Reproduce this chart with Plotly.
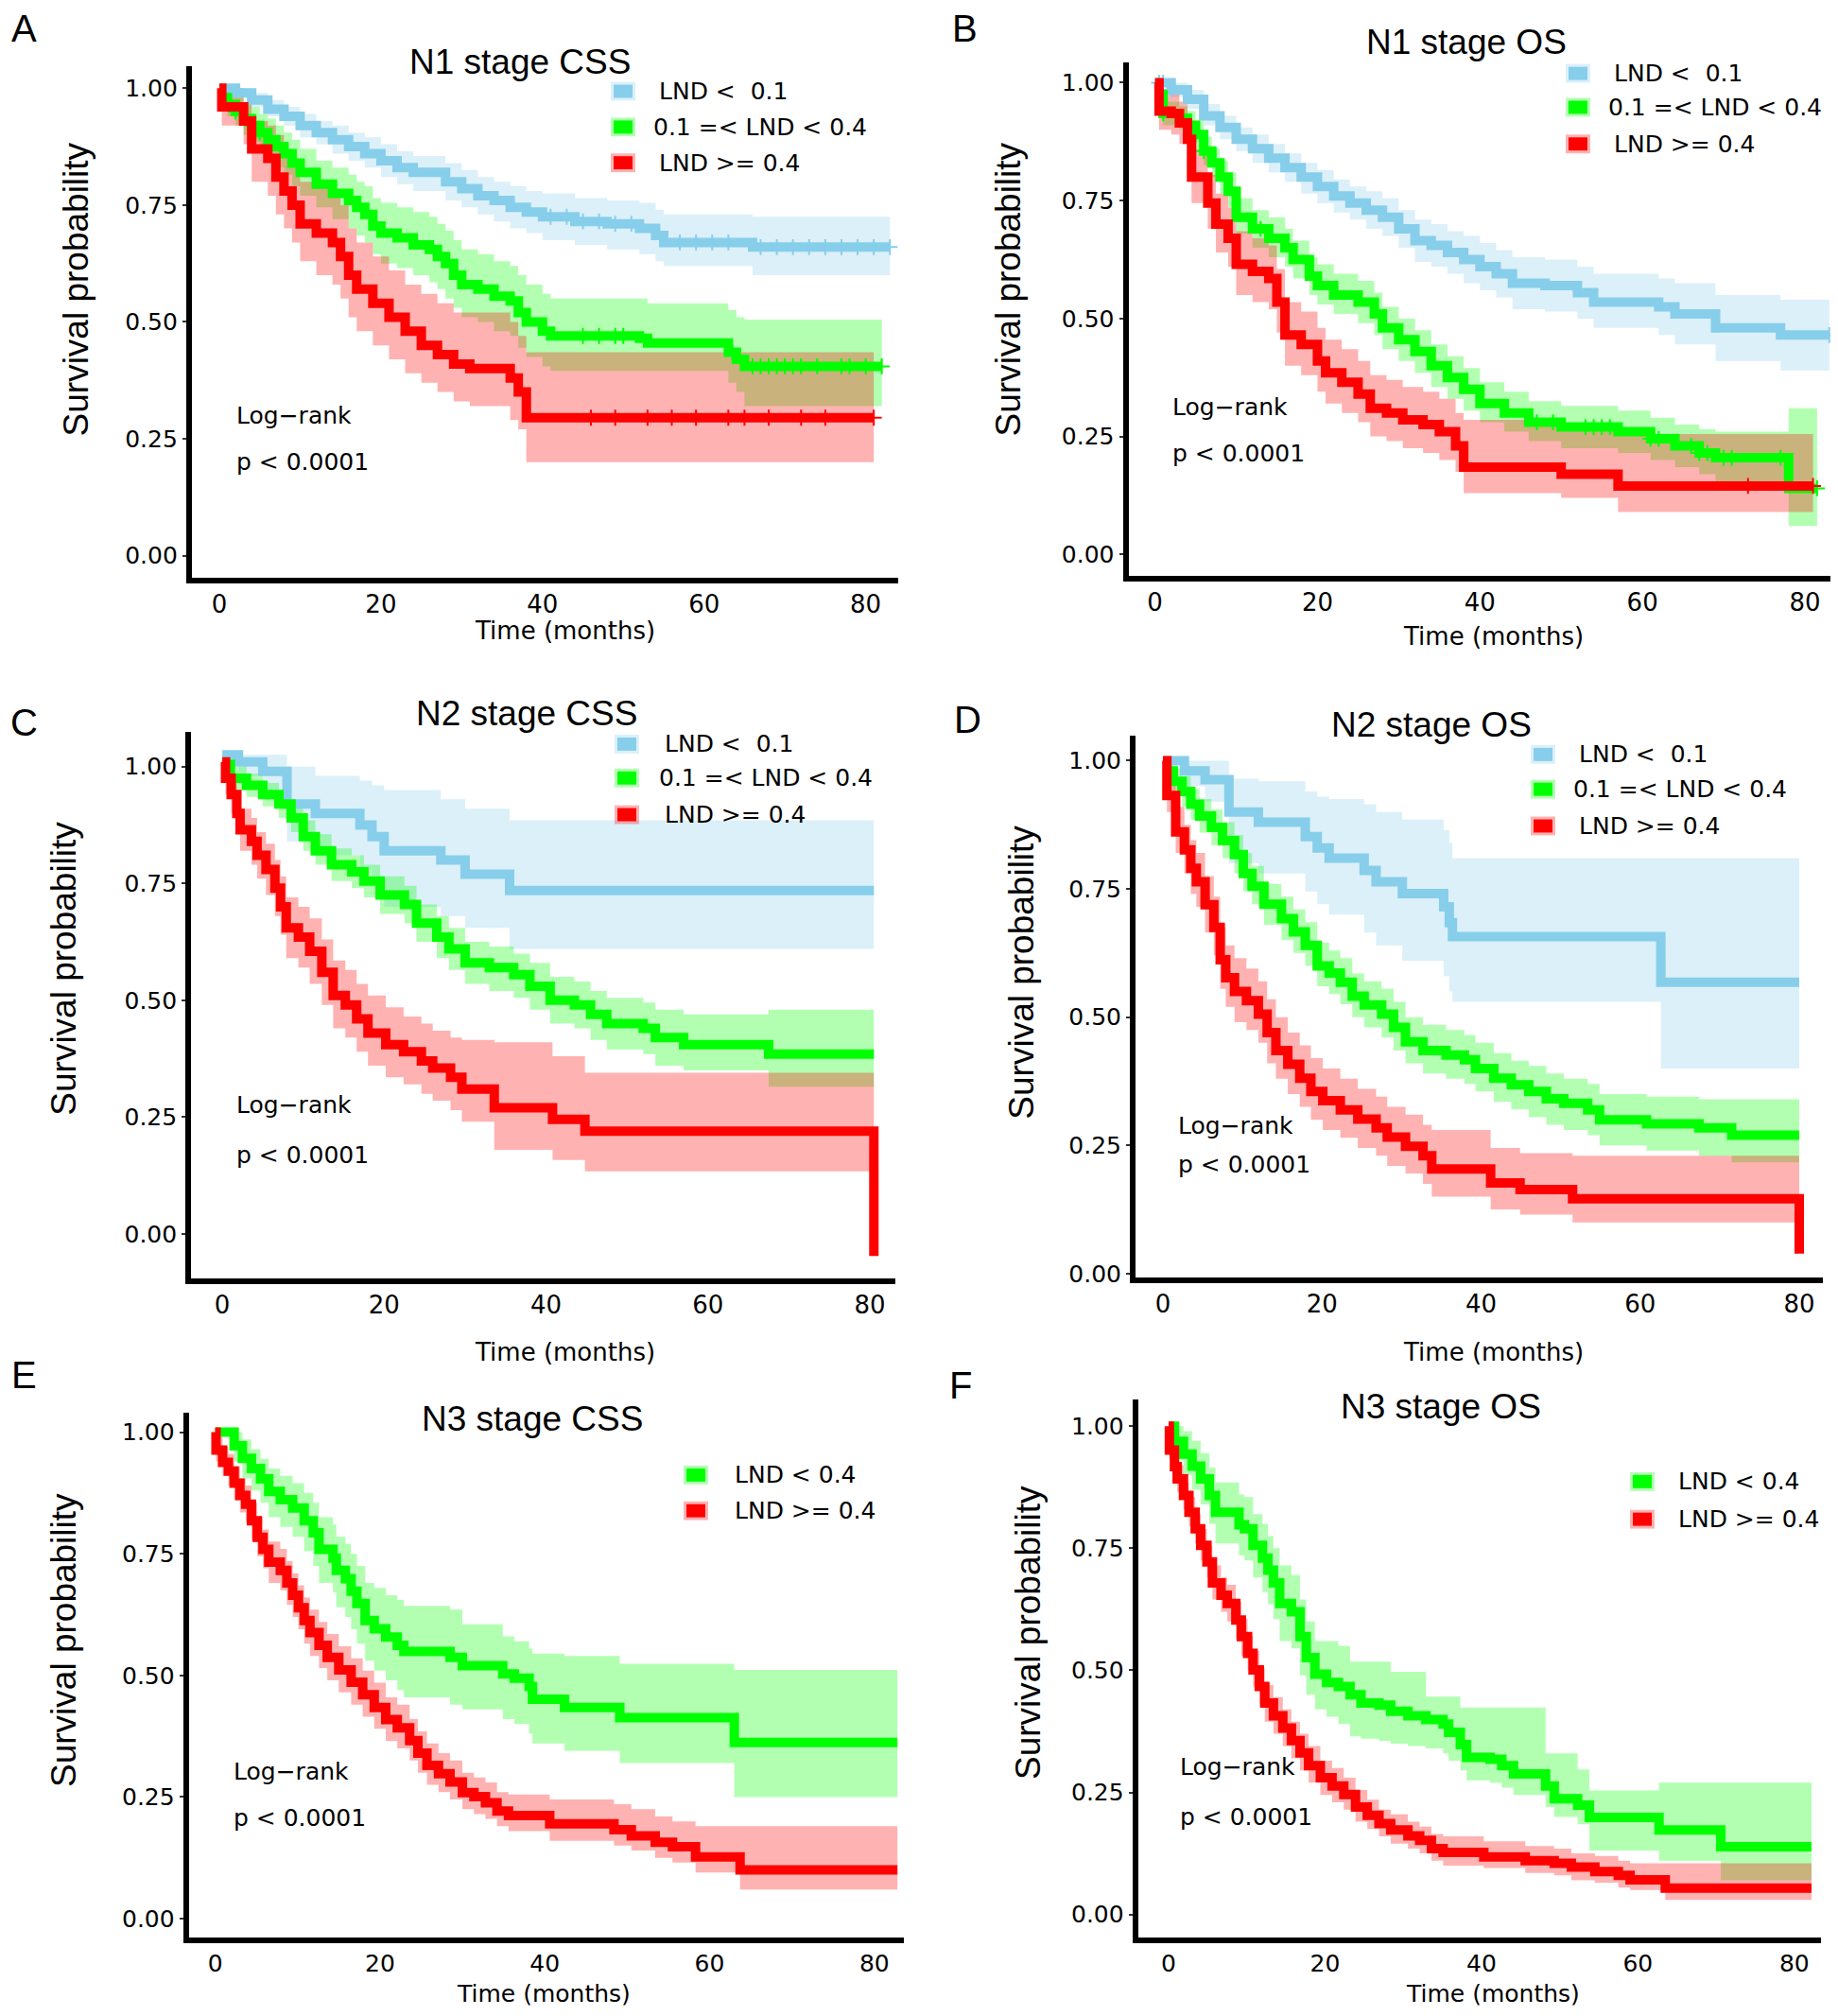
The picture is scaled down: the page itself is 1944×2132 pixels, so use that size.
import numpy as np
import plotly.graph_objects as go

W, H = 1944, 2132

# ---------------- data ----------------
# A: N1 stage CSS
a_blue_t = [0, 2, 4, 6, 8, 10, 12, 14, 16, 18, 20, 22, 24, 28, 30, 32, 34, 36, 38, 40, 44, 48, 52, 54, 55, 66, 83]
a_blue_s = [1.00, 0.99, 0.975, 0.955, 0.94, 0.92, 0.905, 0.89, 0.875, 0.86, 0.845, 0.83, 0.82, 0.80, 0.785, 0.77, 0.76, 0.745, 0.735, 0.725, 0.715, 0.71, 0.70, 0.685, 0.67, 0.66, 0.66]
a_blue_lo = [1.00, 0.98, 0.96, 0.94, 0.92, 0.895, 0.88, 0.86, 0.845, 0.83, 0.81, 0.795, 0.78, 0.76, 0.745, 0.73, 0.715, 0.70, 0.69, 0.675, 0.665, 0.655, 0.645, 0.63, 0.62, 0.60, 0.60]
a_blue_hi = [1.00, 1.00, 0.99, 0.975, 0.96, 0.945, 0.93, 0.92, 0.905, 0.895, 0.88, 0.865, 0.855, 0.84, 0.825, 0.81, 0.80, 0.79, 0.78, 0.775, 0.765, 0.76, 0.755, 0.74, 0.73, 0.725, 0.725]
a_green_t = [0, 1, 2, 3, 4, 5, 6, 7, 8, 9, 10, 12, 14, 16, 17, 18, 19, 20, 22, 24, 26, 27, 28, 29, 30, 32, 34, 36, 37, 38, 40, 41, 52, 53, 63, 64, 65, 82]
a_green_s = [0.98, 0.965, 0.95, 0.935, 0.92, 0.905, 0.89, 0.875, 0.86, 0.84, 0.82, 0.795, 0.775, 0.76, 0.745, 0.73, 0.705, 0.69, 0.68, 0.665, 0.655, 0.64, 0.625, 0.60, 0.58, 0.57, 0.555, 0.545, 0.52, 0.50, 0.48, 0.47, 0.465, 0.455, 0.435, 0.42, 0.405, 0.405]
a_green_lo = [0.96, 0.94, 0.92, 0.90, 0.885, 0.865, 0.85, 0.83, 0.815, 0.79, 0.77, 0.745, 0.72, 0.70, 0.685, 0.67, 0.645, 0.625, 0.615, 0.60, 0.585, 0.57, 0.55, 0.53, 0.51, 0.50, 0.48, 0.47, 0.445, 0.425, 0.405, 0.395, 0.395, 0.395, 0.37, 0.35, 0.32, 0.32]
a_green_hi = [1.0, 0.99, 0.98, 0.97, 0.96, 0.945, 0.935, 0.92, 0.905, 0.89, 0.87, 0.845, 0.83, 0.815, 0.80, 0.79, 0.765, 0.755, 0.745, 0.735, 0.725, 0.71, 0.695, 0.675, 0.655, 0.645, 0.63, 0.62, 0.60, 0.58, 0.56, 0.55, 0.55, 0.54, 0.525, 0.51, 0.505, 0.505]
a_red_t = [0, 0.3, 3, 4, 6, 7, 8, 9, 10, 12, 14, 15, 16, 17, 19, 21, 23, 25, 27, 29, 31, 36, 37, 38, 81]
a_red_s = [1.0, 0.96, 0.93, 0.87, 0.85, 0.81, 0.78, 0.75, 0.71, 0.69, 0.67, 0.64, 0.60, 0.57, 0.54, 0.51, 0.48, 0.45, 0.43, 0.41, 0.40, 0.38, 0.35, 0.295, 0.295]
a_red_lo = [1.0, 0.92, 0.88, 0.80, 0.77, 0.73, 0.70, 0.67, 0.63, 0.60, 0.58, 0.55, 0.51, 0.48, 0.45, 0.42, 0.39, 0.37, 0.35, 0.33, 0.32, 0.29, 0.27, 0.20, 0.20]
a_red_hi = [1.0, 1.0, 0.97, 0.93, 0.92, 0.90, 0.87, 0.84, 0.80, 0.79, 0.78, 0.75, 0.70, 0.67, 0.64, 0.61, 0.58, 0.56, 0.54, 0.52, 0.52, 0.50, 0.47, 0.435, 0.435]
a_blue_cens = [41, 43, 45, 47, 49, 51, 57, 59, 61, 63, 67, 69, 71, 73, 75, 77, 79, 81, 83]
a_green_cens = [2, 4, 5, 45, 47, 49, 50, 63.5, 66, 67, 68, 69, 70, 71, 72, 74, 77, 78, 80, 82]
a_red_cens = [46, 49, 53, 56, 59, 63, 65, 68, 72, 75, 81]

# B: N1 stage OS
b_blue_t = [0, 2, 4, 6, 8, 10, 12, 14, 16, 18, 20, 22, 24, 26, 28, 30, 32, 34, 36, 38, 40, 42, 44, 48, 52, 54, 62, 64, 69, 77, 83]
b_blue_s = [1.0, 0.985, 0.965, 0.93, 0.905, 0.88, 0.86, 0.84, 0.82, 0.80, 0.78, 0.76, 0.745, 0.73, 0.715, 0.69, 0.665, 0.655, 0.64, 0.625, 0.61, 0.595, 0.575, 0.57, 0.555, 0.535, 0.525, 0.51, 0.48, 0.465, 0.465]
b_blue_lo = [1.0, 0.97, 0.945, 0.91, 0.88, 0.855, 0.83, 0.81, 0.79, 0.765, 0.745, 0.725, 0.71, 0.69, 0.675, 0.65, 0.62, 0.61, 0.595, 0.575, 0.56, 0.545, 0.52, 0.515, 0.50, 0.48, 0.465, 0.445, 0.41, 0.39, 0.39]
b_blue_hi = [1.0, 1.0, 0.985, 0.955, 0.93, 0.905, 0.89, 0.87, 0.85, 0.83, 0.815, 0.795, 0.78, 0.77, 0.755, 0.73, 0.71, 0.70, 0.685, 0.675, 0.66, 0.645, 0.63, 0.625, 0.61, 0.595, 0.585, 0.575, 0.55, 0.54, 0.54]
b_green_t = [0, 1, 3, 4, 5, 6, 7, 8, 9, 10, 12, 14, 16, 17, 19, 20, 22, 25, 27, 28, 30, 32, 34, 36, 38, 40, 43, 46, 50, 57, 61, 64, 67, 69, 78, 81.5]
b_green_s = [0.975, 0.935, 0.925, 0.91, 0.89, 0.855, 0.83, 0.80, 0.77, 0.715, 0.69, 0.67, 0.65, 0.625, 0.59, 0.57, 0.55, 0.535, 0.51, 0.48, 0.455, 0.43, 0.40, 0.375, 0.35, 0.32, 0.30, 0.28, 0.27, 0.26, 0.245, 0.23, 0.215, 0.205, 0.14, 0.14]
b_green_lo = [0.95, 0.91, 0.90, 0.885, 0.86, 0.825, 0.80, 0.765, 0.735, 0.68, 0.65, 0.63, 0.61, 0.585, 0.55, 0.53, 0.51, 0.49, 0.465, 0.435, 0.41, 0.385, 0.355, 0.33, 0.305, 0.28, 0.26, 0.24, 0.225, 0.215, 0.20, 0.185, 0.17, 0.155, 0.06, 0.06]
b_green_hi = [1.0, 0.96, 0.95, 0.94, 0.92, 0.885, 0.86, 0.835, 0.81, 0.755, 0.73, 0.715, 0.69, 0.665, 0.63, 0.615, 0.595, 0.58, 0.555, 0.525, 0.50, 0.475, 0.445, 0.42, 0.395, 0.365, 0.345, 0.325, 0.315, 0.305, 0.29, 0.275, 0.265, 0.26, 0.31, 0.31]
b_red_t = [0, 0.5, 2, 3, 4, 4.5, 6.5, 7.5, 9, 10, 12, 14, 15, 16, 18, 20, 21, 23, 25, 26.5, 28.5, 30.5, 33, 35, 37, 38, 50, 57, 81]
b_red_s = [1.0, 0.94, 0.935, 0.915, 0.88, 0.80, 0.745, 0.70, 0.67, 0.615, 0.60, 0.585, 0.535, 0.465, 0.445, 0.41, 0.385, 0.365, 0.34, 0.31, 0.30, 0.285, 0.275, 0.26, 0.23, 0.185, 0.17, 0.145, 0.145]
b_red_lo = [1.0, 0.90, 0.89, 0.87, 0.83, 0.745, 0.69, 0.64, 0.61, 0.55, 0.535, 0.52, 0.47, 0.40, 0.38, 0.345, 0.32, 0.30, 0.28, 0.25, 0.24, 0.225, 0.215, 0.20, 0.175, 0.13, 0.12, 0.09, 0.09]
b_red_hi = [1.0, 0.98, 0.975, 0.96, 0.93, 0.86, 0.805, 0.765, 0.735, 0.685, 0.67, 0.655, 0.605, 0.535, 0.515, 0.48, 0.455, 0.435, 0.41, 0.38, 0.37, 0.355, 0.345, 0.33, 0.30, 0.285, 0.27, 0.255, 0.255]
b_blue_cens = [0.5, 1, 2, 83]
b_green_cens = [1, 5, 6, 13, 47, 49, 53, 54, 55, 56, 61, 62, 66, 67, 68, 70, 71, 77, 81.5]
b_red_cens = [73, 81]

# C: N2 stage CSS
c_blue_t = [0, 2, 5, 8, 11.5, 17, 18.5, 20, 27, 30, 35.5, 80.5]
c_blue_s = [1.025, 1.01, 0.99, 0.92, 0.90, 0.875, 0.85, 0.82, 0.80, 0.77, 0.735, 0.735]
c_blue_lo = [1.025, 0.98, 0.94, 0.84, 0.81, 0.78, 0.75, 0.70, 0.68, 0.655, 0.61, 0.61]
c_blue_hi = [1.025, 1.025, 1.025, 1.0, 0.98, 0.97, 0.96, 0.95, 0.93, 0.91, 0.885, 0.885]
c_green_t = [0, 1, 3, 5, 7, 8.5, 10, 11.5, 13.5, 16, 17.5, 19.5, 22.5, 24, 26.5, 28, 30, 33, 36, 38, 40.5, 43.5, 45.5, 47.5, 52, 53.5, 57, 67.5, 80.5]
c_green_s = [1.005, 0.975, 0.96, 0.94, 0.92, 0.89, 0.85, 0.82, 0.79, 0.775, 0.755, 0.725, 0.705, 0.665, 0.635, 0.61, 0.58, 0.57, 0.555, 0.53, 0.50, 0.49, 0.47, 0.45, 0.44, 0.42, 0.405, 0.385, 0.385]
c_green_lo = [1.0, 0.95, 0.935, 0.915, 0.89, 0.86, 0.82, 0.79, 0.755, 0.74, 0.72, 0.685, 0.665, 0.625, 0.59, 0.565, 0.535, 0.52, 0.505, 0.48, 0.45, 0.44, 0.415, 0.395, 0.385, 0.36, 0.35, 0.315, 0.315]
c_green_hi = [1.02, 1.0, 0.985, 0.965, 0.945, 0.92, 0.885, 0.855, 0.825, 0.81, 0.79, 0.765, 0.745, 0.705, 0.68, 0.655, 0.625, 0.615, 0.60, 0.58, 0.55, 0.54, 0.52, 0.505, 0.495, 0.48, 0.47, 0.48, 0.48]
c_red_t = [0, 0.4, 1.1, 1.8, 2.2, 3.6, 4.3, 5.4, 6.5, 7.2, 7.9, 9.4, 10.8, 12.3, 13.7, 15.2, 16.6, 18, 20.2, 22.4, 24.6, 26, 28.2, 29.6, 33.6, 40.8, 44.8, 80.5]
c_red_s = [1.01, 0.975, 0.94, 0.90, 0.865, 0.84, 0.81, 0.78, 0.74, 0.70, 0.655, 0.635, 0.605, 0.56, 0.51, 0.49, 0.46, 0.43, 0.405, 0.39, 0.37, 0.355, 0.335, 0.31, 0.27, 0.245, 0.22, -0.047]
c_red_lo = [1.0, 0.94, 0.90, 0.855, 0.82, 0.79, 0.76, 0.725, 0.68, 0.64, 0.59, 0.57, 0.535, 0.49, 0.44, 0.42, 0.39, 0.36, 0.335, 0.32, 0.30, 0.285, 0.265, 0.24, 0.18, 0.158, 0.134, 0.134]
c_red_hi = [1.02, 1.0, 0.98, 0.945, 0.91, 0.89, 0.86, 0.835, 0.80, 0.765, 0.72, 0.70, 0.675, 0.63, 0.585, 0.565, 0.535, 0.51, 0.485, 0.465, 0.45, 0.435, 0.42, 0.415, 0.41, 0.38, 0.345, 0.345]

# D: N2 stage OS
d_blue_t = [0, 2.7, 5.3, 8.3, 12, 17.9, 19.4, 20.9, 25.3, 26.8, 30.1, 35.3, 36, 36.4, 62.6, 80]
d_blue_s = [1.0, 0.98, 0.963, 0.90, 0.88, 0.852, 0.83, 0.81, 0.786, 0.764, 0.741, 0.715, 0.684, 0.657, 0.568, 0.568]
d_blue_lo = [1.0, 0.95, 0.92, 0.80, 0.78, 0.745, 0.72, 0.70, 0.665, 0.64, 0.61, 0.58, 0.55, 0.53, 0.40, 0.40]
d_blue_hi = [1.0, 1.0, 1.0, 0.965, 0.96, 0.94, 0.93, 0.925, 0.915, 0.90, 0.885, 0.865, 0.84, 0.81, 0.81, 0.81]
d_green_t = [0, 1.3, 2.4, 3.5, 4.6, 6.1, 7.5, 9, 10.1, 11.2, 12.7, 14.9, 16.4, 17.9, 19.4, 20.9, 22.3, 23.8, 25.3, 27.5, 29, 30.5, 32.7, 35.6, 37.9, 39.3, 41.6, 43.8, 46, 48.2, 50.4, 53.4, 54.9, 60.8, 67.4, 71.5, 80]
d_green_s = [0.98, 0.96, 0.94, 0.915, 0.892, 0.87, 0.844, 0.817, 0.78, 0.755, 0.72, 0.692, 0.666, 0.64, 0.60, 0.586, 0.568, 0.541, 0.524, 0.506, 0.48, 0.452, 0.435, 0.426, 0.417, 0.40, 0.381, 0.368, 0.355, 0.341, 0.332, 0.319, 0.30, 0.292, 0.284, 0.27, 0.27]
d_green_lo = [0.96, 0.935, 0.91, 0.885, 0.86, 0.835, 0.81, 0.78, 0.745, 0.72, 0.68, 0.65, 0.625, 0.60, 0.56, 0.545, 0.525, 0.50, 0.48, 0.46, 0.435, 0.41, 0.39, 0.38, 0.37, 0.355, 0.335, 0.32, 0.305, 0.29, 0.28, 0.27, 0.25, 0.24, 0.23, 0.217, 0.217]
d_green_hi = [1.0, 0.985, 0.97, 0.945, 0.925, 0.905, 0.88, 0.855, 0.82, 0.795, 0.76, 0.735, 0.71, 0.685, 0.645, 0.63, 0.615, 0.585, 0.57, 0.555, 0.53, 0.50, 0.485, 0.475, 0.465, 0.45, 0.43, 0.415, 0.405, 0.39, 0.38, 0.37, 0.35, 0.345, 0.34, 0.34, 0.34]
d_red_t = [0, 0.5, 1.6, 2.7, 3.5, 4.2, 5.3, 6.4, 7.2, 7.9, 9, 10.5, 12, 13.1, 14.2, 15.7, 17.2, 18.6, 20.1, 22.3, 24.5, 26.8, 28.2, 30.5, 32.7, 33.8, 41.2, 44.9, 51.5, 80]
d_red_s = [1.0, 0.932, 0.861, 0.826, 0.79, 0.764, 0.719, 0.675, 0.612, 0.577, 0.55, 0.532, 0.506, 0.47, 0.435, 0.408, 0.381, 0.355, 0.337, 0.319, 0.301, 0.284, 0.266, 0.248, 0.23, 0.204, 0.177, 0.164, 0.146, 0.039]
d_red_lo = [1.0, 0.90, 0.82, 0.78, 0.74, 0.715, 0.665, 0.62, 0.555, 0.52, 0.49, 0.475, 0.45, 0.41, 0.38, 0.35, 0.325, 0.30, 0.28, 0.265, 0.245, 0.23, 0.21, 0.195, 0.175, 0.15, 0.125, 0.115, 0.10, 0.10]
d_red_hi = [1.0, 0.97, 0.91, 0.875, 0.845, 0.82, 0.775, 0.735, 0.675, 0.64, 0.615, 0.595, 0.57, 0.535, 0.50, 0.47, 0.445, 0.42, 0.40, 0.38, 0.36, 0.345, 0.325, 0.31, 0.29, 0.28, 0.245, 0.235, 0.23, 0.23]

# E: N3 stage CSS
e_green_t = [0, 2.3, 3.3, 4.4, 5.5, 6.5, 7.9, 9.4, 10.8, 11.9, 12.6, 14.3, 14.7, 15.8, 16.5, 17.2, 18.2, 19.3, 20.7, 22.1, 22.9, 28.5, 30, 34.9, 36.3, 38.1, 38.5, 42.4, 49.1, 63, 82.8]
e_green_s = [1.0, 0.972, 0.946, 0.925, 0.904, 0.878, 0.861, 0.844, 0.818, 0.793, 0.759, 0.741, 0.716, 0.699, 0.673, 0.648, 0.613, 0.596, 0.579, 0.562, 0.549, 0.537, 0.52, 0.503, 0.494, 0.477, 0.451, 0.434, 0.413, 0.362, 0.362]
e_green_lo = [1.0, 0.94, 0.905, 0.88, 0.855, 0.825, 0.805, 0.785, 0.755, 0.725, 0.69, 0.67, 0.64, 0.62, 0.595, 0.565, 0.53, 0.51, 0.49, 0.47, 0.455, 0.44, 0.43, 0.41, 0.40, 0.38, 0.36, 0.345, 0.32, 0.25, 0.25]
e_green_hi = [1.0, 1.0, 0.985, 0.965, 0.945, 0.925, 0.91, 0.895, 0.875, 0.855, 0.825, 0.81, 0.785, 0.77, 0.75, 0.725, 0.69, 0.68, 0.665, 0.655, 0.643, 0.635, 0.605, 0.58, 0.57, 0.555, 0.545, 0.54, 0.524, 0.511, 0.511]
e_red_t = [0, 0.1, 0.9, 1.6, 2.3, 3, 3.7, 4.4, 5.1, 5.8, 6.5, 7.9, 8.7, 9.4, 10.1, 10.8, 11.5, 12.6, 13.6, 15, 16.5, 17.9, 19.3, 20.7, 22.1, 23.6, 24.6, 25.7, 27.1, 28.5, 30, 31.4, 32.8, 34.2, 35.6, 40.6, 48.4, 50.5, 53.4, 55.5, 58.3, 63.7, 82.8]
e_red_s = [1.0, 0.963, 0.938, 0.92, 0.895, 0.87, 0.852, 0.818, 0.784, 0.759, 0.733, 0.716, 0.69, 0.665, 0.639, 0.613, 0.588, 0.562, 0.537, 0.511, 0.486, 0.46, 0.434, 0.409, 0.392, 0.366, 0.34, 0.315, 0.298, 0.281, 0.259, 0.251, 0.238, 0.221, 0.212, 0.195, 0.183, 0.17, 0.157, 0.148, 0.127, 0.10, 0.10]
e_red_lo = [1.0, 0.94, 0.91, 0.89, 0.86, 0.835, 0.815, 0.78, 0.745, 0.72, 0.69, 0.675, 0.645, 0.62, 0.595, 0.565, 0.54, 0.515, 0.49, 0.465, 0.44, 0.415, 0.39, 0.365, 0.35, 0.325, 0.30, 0.275, 0.26, 0.245, 0.225, 0.215, 0.205, 0.19, 0.18, 0.16, 0.15, 0.14, 0.125, 0.115, 0.095, 0.06, 0.06]
e_red_hi = [1.0, 0.99, 0.97, 0.955, 0.93, 0.905, 0.89, 0.855, 0.825, 0.80, 0.775, 0.76, 0.735, 0.71, 0.685, 0.66, 0.635, 0.61, 0.585, 0.56, 0.535, 0.51, 0.485, 0.455, 0.44, 0.41, 0.385, 0.36, 0.34, 0.325, 0.30, 0.29, 0.28, 0.26, 0.255, 0.245, 0.235, 0.225, 0.21, 0.20, 0.19, 0.19, 0.19]

# F: N3 stage OS
f_green_t = [0, 0.75, 1.9, 3, 4.1, 5.2, 6, 9, 9.7, 10.8, 12, 12.7, 13.4, 14.2, 15.7, 16.8, 17.6, 18.7, 20.2, 21.7, 23.2, 24.6, 26.9, 28.4, 30.6, 32.9, 35.1, 35.8, 37.3, 38.1, 41.1, 42.6, 44.1, 48.2, 49.3, 52.3, 53.8, 62.7, 70.6, 82.2]
f_green_s = [1.0, 0.969, 0.943, 0.918, 0.892, 0.858, 0.824, 0.798, 0.79, 0.756, 0.73, 0.705, 0.679, 0.637, 0.62, 0.569, 0.526, 0.492, 0.475, 0.467, 0.45, 0.433, 0.429, 0.416, 0.407, 0.399, 0.39, 0.373, 0.348, 0.322, 0.318, 0.305, 0.288, 0.263, 0.237, 0.224, 0.199, 0.173, 0.139, 0.139]
f_green_lo = [1.0, 0.93, 0.90, 0.87, 0.84, 0.80, 0.76, 0.735, 0.725, 0.69, 0.66, 0.635, 0.605, 0.56, 0.545, 0.49, 0.45, 0.42, 0.405, 0.39, 0.365, 0.36, 0.355, 0.35, 0.345, 0.34, 0.33, 0.315, 0.295, 0.275, 0.27, 0.26, 0.245, 0.22, 0.2, 0.185, 0.131, 0.11, 0.07, 0.07]
f_green_hi = [1.0, 1.0, 0.99, 0.97, 0.945, 0.915, 0.885, 0.86, 0.855, 0.82, 0.80, 0.775, 0.75, 0.715, 0.695, 0.645, 0.60, 0.56, 0.56, 0.55, 0.518, 0.518, 0.518, 0.497, 0.497, 0.446, 0.446, 0.446, 0.424, 0.424, 0.424, 0.424, 0.424, 0.33, 0.33, 0.297, 0.254, 0.27, 0.27, 0.27]
f_red_t = [0, 0.1, 0.75, 1.1, 1.9, 2.6, 3.4, 4.1, 4.9, 5.6, 6.7, 7.5, 8.6, 9.3, 10.1, 10.8, 11.6, 12.3, 13.4, 14.6, 15.7, 16.8, 17.9, 19.4, 20.9, 22.4, 23.9, 25.4, 26.9, 28.4, 30.6, 32.1, 33.6, 35.1, 40.3, 45.6, 49.3, 51.5, 54.5, 57.5, 59, 63.5, 82.2]
f_red_s = [1.0, 0.951, 0.917, 0.892, 0.858, 0.824, 0.79, 0.756, 0.722, 0.679, 0.654, 0.637, 0.603, 0.569, 0.535, 0.501, 0.467, 0.433, 0.407, 0.382, 0.356, 0.331, 0.305, 0.28, 0.263, 0.246, 0.22, 0.203, 0.186, 0.173, 0.161, 0.152, 0.135, 0.127, 0.118, 0.11, 0.105, 0.097, 0.088, 0.08, 0.071, 0.054, 0.054]
f_red_lo = [1.0, 0.93, 0.89, 0.865, 0.83, 0.795, 0.76, 0.725, 0.69, 0.645, 0.62, 0.60, 0.565, 0.53, 0.50, 0.465, 0.43, 0.395, 0.37, 0.345, 0.32, 0.295, 0.27, 0.245, 0.23, 0.215, 0.19, 0.175, 0.16, 0.145, 0.135, 0.125, 0.11, 0.10, 0.095, 0.085, 0.08, 0.07, 0.065, 0.055, 0.05, 0.03, 0.03]
f_red_hi = [1.0, 0.975, 0.945, 0.92, 0.885, 0.855, 0.82, 0.79, 0.755, 0.715, 0.69, 0.675, 0.64, 0.605, 0.57, 0.54, 0.505, 0.47, 0.445, 0.42, 0.395, 0.37, 0.345, 0.315, 0.3, 0.28, 0.255, 0.235, 0.215, 0.205, 0.19, 0.18, 0.165, 0.16, 0.15, 0.14, 0.135, 0.125, 0.12, 0.11, 0.105, 0.105, 0.105]

labels3 = ["LND <\u00a0 0.1", "0.1 =< LND < 0.4", "LND >= 0.4"]
labels2 = ["LND < 0.4", "LND >= 0.4"]
x_ticks = [0, 20, 40, 60, 80]
y_ticks = [0, 0.25, 0.5, 0.75, 1.0]
y_ticktext = ["0.00", "0.25", "0.50", "0.75", "1.00"]

LINE = {"blue": "#87CEEB", "green": "#00FF00", "red": "#FF0000"}
FILL = {"blue": "rgba(135,206,235,0.3)", "green": "rgba(0,255,0,0.3)", "red": "rgba(255,0,0,0.3)"}

# page pixel positions; the page body keeps its default 8px margin
OFF = 8
FW, FH = W - 2 * OFF, H - 2 * OFF
AXW = 6

# xcal: axis-line left, axis-line right, pixel of t=0, pixel of t=80
# ycal: axis top, axis-line bottom, pixel of S=1, pixel of S=0
# xtitle_xy y=None -> sits on the bottom edge of the figure
panels = [
    dict(letter="A", title="N1 stage CSS", xcal=(199.8, 949.6, 232, 915.6), ycal=(70.5, 617.4, 93.75, 590.6),
         title_xy=(550, 66), letter_xy=(25, 30), ytitle_xy=(80, 308), xtitle_xy=(597, 670),
         lr_xy=(249, 442, 491), leg=(659, 696, [97, 135, 173]), labels=labels3, xfont=26,
         curves=[("blue", a_blue_t, a_blue_s, a_blue_lo, a_blue_hi, a_blue_cens),
                 ("green", a_green_t, a_green_s, a_green_lo, a_green_hi, a_green_cens),
                 ("red", a_red_t, a_red_s, a_red_lo, a_red_hi, a_red_cens)]),
    dict(letter="B", title="N1 stage OS", xcal=(1190.5, 1939, 1221.6, 1909), ycal=(66.1, 615.2, 87.9, 589.3),
         title_xy=(1551, 45), letter_xy=(1020, 30), ytitle_xy=(1066, 308), xtitle_xy=(1579, 676),
         lr_xy=(1239, 433, 482), leg=(1669, 1706, [78, 114, 153]), labels=labels3, xfont=26,
         curves=[("blue", b_blue_t, b_blue_s, b_blue_lo, b_blue_hi, b_blue_cens),
                 ("green", b_green_t, b_green_s, b_green_lo, b_green_hi, b_green_cens),
                 ("red", b_red_t, b_red_s, b_red_lo, b_red_hi, b_red_cens)]),
    dict(letter="C", title="N2 stage CSS", xcal=(199.2, 946.6, 235.1, 920), ycal=(777.6, 1361.7, 814.9, 1311.7),
         title_xy=(557, 758), letter_xy=(25, 768), ytitle_xy=(68, 1030), xtitle_xy=(597, 1437),
         lr_xy=(249, 1175, 1228), leg=(663, 702, [791, 827, 866]), labels=labels3, xfont=26,
         curves=[("blue", c_blue_t, c_blue_s, c_blue_lo, c_blue_hi, []),
                 ("green", c_green_t, c_green_s, c_green_lo, c_green_hi, []),
                 ("red", c_red_t, c_red_s, c_red_lo, c_red_hi, [])]),
    dict(letter="D", title="N2 stage OS", xcal=(1198, 1928, 1230, 1903), ycal=(782.4, 1360.7, 808.6, 1353.9),
         title_xy=(1514, 770), letter_xy=(1023, 765), ytitle_xy=(1081, 1034), xtitle_xy=(1579, 1437),
         lr_xy=(1245, 1197, 1238), leg=(1632, 1669, [802, 839, 878]), labels=labels3, xfont=26,
         curves=[("blue", d_blue_t, d_blue_s, d_blue_lo, d_blue_hi, []),
                 ("green", d_green_t, d_green_s, d_green_lo, d_green_hi, []),
                 ("red", d_red_t, d_red_s, d_red_lo, d_red_hi, [])]),
    dict(letter="E", title="N3 stage CSS", xcal=(196.7, 955.7, 227.6, 924.8), ycal=(1501.8, 2063.1, 1522.4, 2039.6),
         title_xy=(563, 1508), letter_xy=(25, 1462), ytitle_xy=(68, 1744), xtitle_xy=(575, None),
         lr_xy=(246, 1883, 1933), leg=(736, 776, [1568, 1606]), labels=labels2, xfont=25,
         curves=[("green", e_green_t, e_green_s, e_green_lo, e_green_hi, []),
                 ("red", e_red_t, e_red_s, e_red_lo, e_red_hi, [])]),
    dict(letter="F", title="N3 stage OS", xcal=(1200.7, 1925.6, 1236, 1897.8), ycal=(1487.7, 2062.2, 1516.1, 2035.2),
         title_xy=(1524, 1495), letter_xy=(1016, 1473), ytitle_xy=(1087, 1736), xtitle_xy=(1579, None),
         lr_xy=(1247, 1878, 1931), leg=(1737, 1774, [1575, 1615]), labels=labels2, xfont=25,
         curves=[("green", f_green_t, f_green_s, f_green_lo, f_green_hi, []),
                 ("red", f_red_t, f_red_s, f_red_lo, f_red_hi, [])]),
]


def px(x):
    return (x - OFF) / FW


def py(y):
    return 1 - (y - OFF) / FH


def step_xy(t, v):
    xs, ys = [], []
    for i in range(len(t)):
        if i > 0:
            xs.append(t[i])
            ys.append(v[i - 1])
        xs.append(t[i])
        ys.append(v[i])
    return xs, ys


def text(x, y, s, size, family="DejaVu Sans", xanchor="center", angle=0):
    if y is None:
        yv, ya, ys = 0.0, "bottom", -11
    else:
        yv, ya, ys = py(y), "middle", 0
    return dict(x=px(x), y=yv, text=s, showarrow=False, xref="paper", yref="paper",
                xanchor=xanchor, yanchor=ya, yshift=ys, textangle=angle, borderpad=0,
                font=dict(family=family, size=size, color="black"))


fig = go.Figure()
annotations = []
shapes = []
layout_axes = {}

for k, p in enumerate(panels, start=1):
    xa = "x" if k == 1 else f"x{k}"
    ya = "y" if k == 1 else f"y{k}"
    axl, axr, t0, t80 = p["xcal"]
    axt, axb, s1, s0 = p["ycal"]
    left = axl + AXW / 2
    right = min(axr, W - OFF)
    bottom = axb - AXW / 2
    top = axt
    kx = (t80 - t0) / 80.0
    ky = s0 - s1
    xr = [(left - t0) / kx, (right - t0) / kx]
    yr = [(s0 - bottom) / ky, (s0 - top) / ky]

    layout_axes["xaxis" if k == 1 else f"xaxis{k}"] = dict(
        domain=[px(left), min(px(right), 1.0)], range=xr, anchor=ya, showline=True, linewidth=AXW,
        linecolor="black", ticks="", tickvals=x_ticks, showgrid=False, zeroline=False,
        tickfont=dict(family="DejaVu Sans", size=p["xfont"], color="black"))
    layout_axes["yaxis" if k == 1 else f"yaxis{k}"] = dict(
        domain=[py(bottom), py(top)], range=yr, anchor=xa, showline=True, linewidth=AXW,
        linecolor="black", ticks="outside", ticklen=4, tickwidth=2, tickcolor="#333",
        tickvals=y_ticks, ticktext=y_ticktext, showgrid=False, zeroline=False,
        tickfont=dict(family="DejaVu Sans", size=25, color="black"))

    # confidence ribbons (red drawn last so it tints the overlaps brown)
    for col, t, s, lo, hi, cens in p["curves"]:
        assert len(t) == len(s) == len(lo) == len(hi), (p["letter"], col)
        ux, uy = step_xy(t, hi)
        lx, ly = step_xy(t, lo)
        fig.add_trace(go.Scatter(x=ux + lx[::-1], y=uy + ly[::-1], fill="toself", fillcolor=FILL[col],
                                 line=dict(width=0), mode="lines", hoverinfo="skip",
                                 showlegend=False, xaxis=xa, yaxis=ya))
    # survival curves with censoring ticks
    for col, t, s, lo, hi, cens in p["curves"]:
        fig.add_trace(go.Scatter(x=t, y=s, mode="lines", line=dict(color=LINE[col], width=10, shape="hv"),
                                 showlegend=False, xaxis=xa, yaxis=ya))
        if cens:
            idx = np.searchsorted(np.array(t), np.array(cens), side="right") - 1
            fig.add_trace(go.Scatter(x=cens, y=[s[i] for i in idx], mode="markers",
                                     marker=dict(symbol="cross-thin", size=12, line=dict(color=LINE[col], width=2)),
                                     showlegend=False, xaxis=xa, yaxis=ya))

    annotations.append(text(*p["letter_xy"], p["letter"], 40, family="Liberation Sans"))
    annotations.append(text(*p["title_xy"], p["title"], 37, family="Liberation Sans"))
    annotations.append(text(*p["ytitle_xy"], "Survival probability", 37, family="Liberation Sans", angle=-90))
    annotations.append(text(*p["xtitle_xy"], "Time (months)", p["xfont"]))
    lx0, ly1, ly2 = p["lr_xy"]
    annotations.append(text(lx0, ly1, "Log\u2212rank", 25, xanchor="left"))
    annotations.append(text(lx0, ly2, "p < 0.0001", 25, xanchor="left"))

    # legend keys
    kx0, tx, kys = p["leg"]
    for (col, *_), lab, kyy in zip(p["curves"], p["labels"], kys):
        shapes.append(dict(type="rect", xref="paper", yref="paper", x0=px(kx0 - 13), x1=px(kx0 + 13),
                           y0=py(kyy + 10), y1=py(kyy - 10), fillcolor=FILL[col], line=dict(width=0)))
        shapes.append(dict(type="rect", xref="paper", yref="paper", x0=px(kx0 - 10), x1=px(kx0 + 10),
                           y0=py(kyy + 7), y1=py(kyy - 7), fillcolor=LINE[col], line=dict(width=0)))
        shift = -6 if lab.startswith("0.1") else 0
        annotations.append(text(tx + shift, kyy, lab, 25, xanchor="left"))

fig.update_layout(
    width=FW, height=FH, margin=dict(l=0, r=0, t=0, b=0),
    paper_bgcolor="white", plot_bgcolor="white", showlegend=False,
    annotations=annotations, shapes=shapes, **layout_axes,
)
fig.write_html("out.html")
